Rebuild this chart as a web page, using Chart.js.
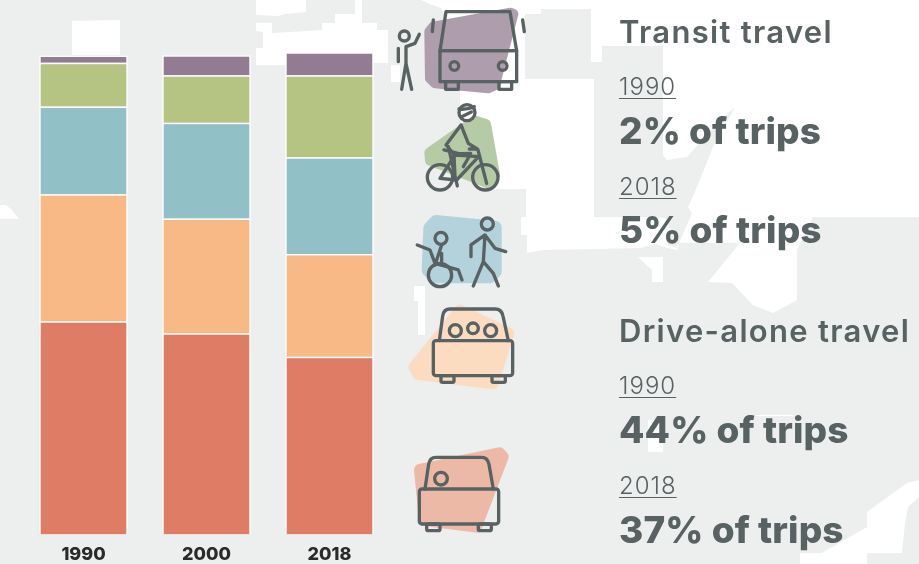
<!DOCTYPE html>
<html><head><meta charset="utf-8">
<style>
html,body{margin:0;padding:0;width:919px;height:564px;overflow:hidden;background:#edefee}
#wrap{position:relative;width:919px;height:564px}
svg{position:absolute;left:0;top:0}
canvas{position:absolute;left:0;top:0}
.t{position:absolute;left:619px;color:#586263;white-space:nowrap;font-family:Inter,"Open Sans",sans-serif;line-height:1}
.h{font-size:31px;font-weight:600;letter-spacing:1.3px}
.y{left:619px;font-size:24px;font-weight:300;letter-spacing:1px;text-decoration:underline;text-decoration-thickness:1px;text-underline-offset:3px}
.b{font-size:37px;font-weight:800;letter-spacing:.1px}
</style>
<script src="https://cdn.jsdelivr.net/npm/chart.js@4"></script>
</head><body><div id="wrap">
<svg width="919" height="564" viewBox="0 0 919 564">
 <g fill="#fff">
  <polygon points="421,0 919,0 919,217 813,217 797,250 797,300 773,313 753,305 732,283 708,282 740,243 680,243 677,250 668,248 655,244 640,248 543,250 527,253 527,235 521,235 521,217 526,217 526,189 493,189 460,170 460,92 447,20 441,8 432,5"/>
  <polygon fill="#edefee" points="525,14 541,14 541,9 591,9 591,62 602,62 602,46 663,46 663,155 667,160 687,157 720,120 735,107 713,147 697,187 688,207 692,213 677,248 668,245 672,232 665,218 643,217 594,217 594,79 525,79"/>
  <polygon points="638,257 663,257 663,282 652,282 652,270 638,257"/>
  <polygon points="72,21 120,20 120,55 72,55"/>
  <polygon points="256,0 306,0 306,12 285,14 279,16 256,15"/>
  <polygon points="335,14 355,14 355,0 362,0 362,23 377,23 377,30 388,30 388,63 374,63 374,65 285,65 256,65 256,48 263,48 263,32 256,31 256,23 272,23 272,33 290,32 322,30 322,23 335,23"/>
  <polygon points="391,65 400,65 400,82 391,82"/>
  <polygon points="414,286 425,286 425,335 418,335 418,301 414,301"/>
  <polygon points="648,420 663,420 663,452 648,452"/>
  <polygon points="755,415 793,415 793,416 755,416"/>
  <polygon points="0,205 6,205 12,210 19,219 0,219"/>
  <polygon points="919,480 907,483 867,512 867,527 822,553 800,553 800,564 867,564 867,553 902,553 905,523 908,507 919,497"/>
 </g>
 <g transform="translate(380,0) scale(0.3333)" stroke-linejoin="round" stroke-linecap="round">
  <polygon fill="#ae9dad" stroke="#ae9dad" stroke-width="30" points="160,80 392,38 400,42 345,255 325,265 165,250 150,235 148,95"/>
  <polygon fill="#b5cba6" stroke="#b5cba6" stroke-width="30" points="148,458 285,362 318,372 345,525 325,550 150,482"/>
  <polygon fill="#b3d2dc" stroke="#b3d2dc" stroke-width="40" points="168,665 345,682 345,815 330,830 165,830 145,810 150,685"/>
  <g fill="none" stroke="#596263" stroke-width="10">
   <polygon points="180,152 198,35 390,35 410,152"/>
   <rect x="180" y="152" width="230" height="93"/>
   <circle cx="223" cy="198" r="13"/><circle cx="368" cy="198" r="13"/>
   <rect x="197" y="245" width="38" height="23"/><rect x="357" y="245" width="38" height="23"/>
   <path d="M160 60L157 95M428 60L433 95"/>
   <circle cx="73" cy="108" r="15"/>
   <path d="M78 140V190L65 268M78 190L95 268M78 140L105 130L118 103M55 145V185"/>
   <circle cx="261" cy="338" r="24"/>
   <path d="M237 327Q260 330 283 320M245 350L274 336"/>
   <path d="M243 375L198 435L222 462L272 460M243 375L265 430L292 447L268 447"/>
   <path d="M192 450L240 462M205 440L232 558M222 465L225 530M270 465L250 500M294 450L320 550"/>
   <circle cx="180" cy="532" r="38"/><circle cx="316" cy="532" r="38"/>
   <path d="M180 535L225 465L296 470L230 540L180 535"/>
   <circle cx="183" cy="715" r="18"/>
   <path d="M185 735L165 795M112 735L150 750L165 790L235 810L246 840M185 760L185 785"/>
   <circle cx="180" cy="825" r="35"/>
   <circle cx="322" cy="672" r="18"/>
   <path d="M315 705L310 785L280 858M310 785L340 820L355 858M315 705L273 735V770M315 705L345 745L377 755"/>
  </g>
 </g>
 <g transform="translate(380,290) scale(0.3333)" stroke-linejoin="round" stroke-linecap="round">
  <polygon fill="#fcdcc1" stroke="#fcdcc1" stroke-width="36" points="240,62 385,130 338,280 115,252 103,232"/>
  <polygon fill="#ecb9a7" stroke="#ecb9a7" stroke-width="36" points="358,490 368,500 288,710 135,690 120,540"/>
  <g fill="none" stroke="#596263" stroke-width="10">
   <path d="M178 152L188 78Q191 57 210 57H345Q365 57 369 78L385 152"/>
   <rect x="160" y="152" width="238" height="105" rx="8"/>
   <rect x="183" y="257" width="39" height="20" rx="5"/><rect x="336" y="257" width="40" height="20" rx="5"/>
   <circle cx="226" cy="122" r="18"/><circle cx="279" cy="115" r="16"/><circle cx="332" cy="122" r="18"/>
   <path d="M135 597L146 523Q149 502 168 502H305Q323 502 327 523L340 597"/>
   <rect x="118" y="597" width="238" height="105" rx="8"/>
   <rect x="140" y="702" width="40" height="20" rx="5"/><rect x="295" y="702" width="39" height="20" rx="5"/>
   <circle cx="183" cy="566" r="19"/>
  </g>
 </g>
</svg>
<canvas id="c" width="919" height="564"></canvas>
<div class="t h" style="top:16px">Transit travel</div>
<div class="t y" style="top:75px">1990</div>
<div class="t b" style="top:112px">2% of trips</div>
<div class="t y" style="top:175px">2018</div>
<div class="t b" style="top:211px">5% of trips</div>
<div class="t h" style="top:315px">Drive-alone travel</div>
<div class="t y" style="top:374px">1990</div>
<div class="t b" style="top:411px">44% of trips</div>
<div class="t y" style="top:474px">2018</div>
<div class="t b" style="top:511px">37% of trips</div>
</div>
<script>
const years = ["1990", "2000", "2018"];
const driveAlone = [44.5, 42.0, 37.1];
const carpool = [26.5, 23.9, 21.4];
const walkRoll = [18.3, 20.0, 20.2];
const bike = [9.1, 9.9, 17.1];
const transit = [1.5, 4.2, 4.8];
const seriesColors = ["#de7c65", "#f8b987", "#91c0c7", "#b5c483", "#937c92"];
const axisMax = 111.5;

new Chart(document.getElementById("c"), {
  type: "bar",
  data: {
    labels: years,
    datasets: [driveAlone, carpool, walkRoll, bike, transit].map((d, i) => ({
      data: d, backgroundColor: seriesColors[i], borderColor: "#ffffff", borderWidth: 1.5,
      barPercentage: 0.72, categoryPercentage: 1
    }))
  },
  options: {
    responsive: false, animation: false,
    layout: { padding: { left: 22, right: 528, top: 0, bottom: 0 } },
    plugins: { legend: { display: false }, tooltip: { enabled: false } },
    scales: {
      x: { stacked: true, grid: { display: false }, border: { display: false },
           afterFit(s) { s.height = 29.5; },
           ticks: { color: "#2b2a2b", padding: 1, font: { family: "Inter", size: 18, weight: "800" } } },
      y: { stacked: true, display: false, min: 0, max: axisMax }
    }
  }
});
</script>
</body></html>
